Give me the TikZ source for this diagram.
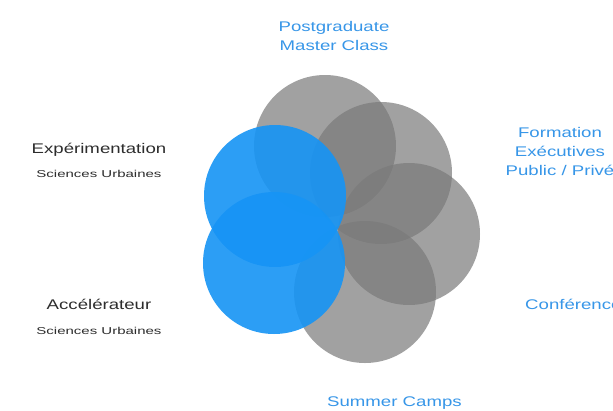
\documentclass[tikz,border=0pt]{standalone}
\usepackage{fontspec}
\newfontfamily\labelfont[FakeStretch=1.33]{Liberation Sans}
\newfontfamily\subfont[FakeStretch=1.5]{Liberation Sans}
\definecolor{petal}{RGB}{22,148,245}
\definecolor{shade}{RGB}{122,122,122}
\definecolor{caption}{RGB}{55,150,232}
\definecolor{ink}{RGB}{45,45,45}
\tikzset{
  x=1pt, y=-1pt,
  greydisc/.style={circle, minimum size=142pt, inner sep=0pt, fill=shade, fill opacity=0.7, draw=none},
  bluedisc/.style={circle, minimum size=142pt, inner sep=0pt, fill=petal, fill opacity=0.9, draw=none},
  bluelabel/.style={text=caption, font=\labelfont\fontsize{14}{19}\selectfont, align=center, inner sep=0pt},
  darklabel/.style={text=ink, font=\labelfont\fontsize{14}{19}\selectfont, inner sep=0pt},
  sublabel/.style={text=ink, font=\subfont\fontsize{10}{12}\selectfont, inner sep=0pt}
}
\begin{document}
\begin{tikzpicture}
  \useasboundingbox (0,0) rectangle (613,410);
  \fill[white] (0,0) rectangle (613,410);

  % grey ring of activities
  \node[greydisc] (master)  at (325,146) {};
  \node[greydisc] (exec)    at (381,173) {};
  \node[greydisc] (conf)    at (409,234) {};
  \node[greydisc] (camps)   at (365,292) {};

  % blue pair: experimentation and accelerator
  \node[bluedisc] (exper)   at (275,196) {};
  \node[bluedisc] (accel)   at (274,263) {};

  % labels around the ring (base = baseline of the last line)
  \node[bluelabel, anchor=base] (tmaster) at (334,50) {Postgraduate\\Master Class};
  \node[bluelabel, anchor=base] (texec)   at (560,175) {Formation\\Exécutives\\Public / Privé};
  \node[bluelabel, anchor=base west] (tconf)  at (525,309) {Conférences};
  \node[bluelabel, anchor=base west] (tcamps) at (327,406) {Summer Camps};

  \node[darklabel, anchor=base] (texper) at (99,153) {Expérimentation};
  \node[sublabel, anchor=base] (sexper)  at (99,177) {Sciences Urbaines};
  \node[darklabel, anchor=base] (taccel) at (99,309) {Accélérateur};
  \node[sublabel, anchor=base] (saccel)  at (99,334) {Sciences Urbaines};
\end{tikzpicture}
\end{document}
